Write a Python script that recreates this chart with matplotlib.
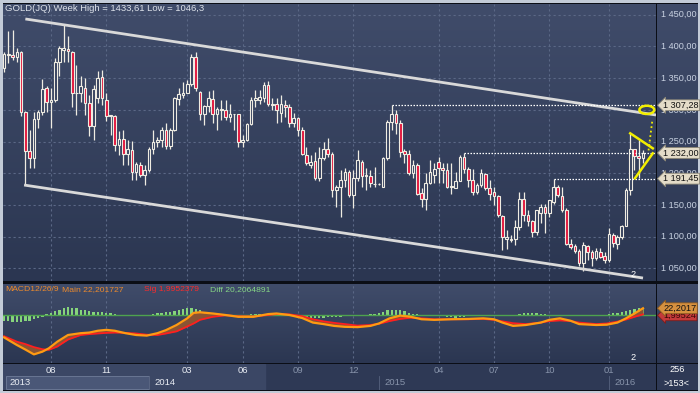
import numpy as np
import matplotlib
matplotlib.use('Agg')
import matplotlib.pyplot as plt
from matplotlib.patches import Rectangle, Ellipse
from matplotlib.colors import LinearSegmentedColormap

plt.rcParams['font.family'] = ['Liberation Sans', 'DejaVu Sans']

# ---------------- data (weekly OHLC, bar index order) ----------------
opens = [1366, 1386, 1387, 1383, 1391, 1296, 1235, 1224, 1286, 1296,
         1335, 1312, 1316, 1376, 1395, 1396, 1391, 1326, 1326, 1335,
         1311, 1274, 1318, 1352, 1315, 1290, 1290, 1245, 1254, 1230,
         1237, 1202, 1213, 1197, 1205, 1239, 1250, 1253, 1269, 1243,
         1268, 1317, 1324, 1326, 1341, 1383, 1328, 1294, 1306, 1317,
         1294, 1299, 1300, 1289, 1293, 1293, 1250, 1253, 1278, 1315,
         1315, 1318, 1339, 1310, 1309, 1295, 1307, 1304, 1280, 1287,
         1269, 1229, 1213, 1220, 1192, 1224, 1238, 1231, 1174, 1178,
         1189, 1202, 1166, 1192, 1218, 1195, 1196, 1183, 1183, 1179,
         1224, 1281, 1294, 1279, 1235, 1230, 1201, 1213, 1169, 1159,
         1184, 1198, 1217, 1208, 1205, 1179, 1177, 1188, 1226, 1206,
         1190, 1171, 1181, 1199, 1176, 1171, 1164, 1133, 1096, 1094,
         1096, 1115, 1160, 1134, 1124, 1108, 1138, 1146, 1138, 1155,
         1179, 1164, 1142, 1089, 1085, 1078, 1058, 1085, 1075, 1066,
         1076, 1069, 1063, 1102, 1089, 1099, 1117, 1174, 1238, 1227,
         1224]
highs = [1391, 1424, 1426, 1397, 1393, 1298, 1268, 1297, 1300, 1349,
         1338, 1334, 1382, 1400, 1433.61, 1416, 1393, 1371, 1353, 1350,
         1324, 1340, 1361, 1363, 1326, 1292, 1292, 1267, 1269, 1253,
         1251, 1218, 1217, 1213, 1242, 1268, 1257, 1273, 1279, 1272,
         1321, 1334, 1344, 1347, 1388, 1392, 1329, 1308, 1329, 1331,
         1305, 1316, 1316, 1310, 1294, 1294, 1260, 1279, 1321, 1331,
         1331, 1344, 1345, 1318, 1318, 1323, 1315, 1310, 1295, 1289,
         1273, 1242, 1229, 1234, 1242, 1250, 1255, 1234, 1182, 1205,
         1208, 1205, 1205, 1237, 1221, 1208, 1205, 1210, 1184, 1226,
         1284, 1307.28, 1300, 1284, 1239, 1237, 1221, 1216, 1176, 1200,
         1221, 1216, 1226, 1216, 1216, 1216, 1202, 1229, 1232, 1210,
         1206, 1184, 1206, 1201, 1189, 1179, 1166, 1134, 1110, 1102,
         1126, 1170, 1171, 1142, 1126, 1142, 1152, 1152, 1158, 1191.45,
         1181, 1179, 1145, 1097, 1089, 1080, 1092, 1087, 1079, 1082,
         1082, 1076, 1113, 1105, 1102, 1118, 1176, 1263, 1239, 1253,
         1236]
lows = [1359, 1374, 1379, 1376, 1290, 1181, 1208, 1208, 1271, 1292,
        1296, 1272, 1313, 1353, 1376, 1376, 1305, 1292, 1313, 1292,
        1258, 1253, 1311, 1308, 1282, 1261, 1235, 1229, 1213, 1213,
        1190, 1189, 1194, 1181, 1202, 1231, 1242, 1242, 1239, 1239,
        1267, 1308, 1318, 1326, 1338, 1330, 1284, 1276, 1297, 1279,
        1268, 1284, 1284, 1281, 1268, 1242, 1241, 1251, 1276, 1305,
        1310, 1313, 1306, 1300, 1279, 1281, 1289, 1273, 1273, 1258,
        1229, 1213, 1208, 1189, 1187, 1221, 1226, 1163, 1147, 1131,
        1179, 1163, 1145, 1187, 1179, 1173, 1179, 1179, 1182, 1179,
        1221, 1268, 1262, 1226, 1216, 1197, 1192, 1166, 1147, 1142,
        1183, 1184, 1184, 1184, 1176, 1168, 1176, 1187, 1200, 1179,
        1166, 1168, 1179, 1174, 1158, 1150, 1131, 1079, 1081, 1092,
        1087, 1110, 1125, 1116, 1100, 1103, 1121, 1105, 1131, 1152,
        1163, 1139, 1087, 1081, 1074, 1053, 1046.3, 1063, 1053, 1063,
        1066, 1058, 1060, 1084, 1081, 1097, 1116, 1166, 1205, 1192,
        1216]
closes = [1388, 1388, 1383, 1391, 1296, 1235, 1224, 1286, 1296, 1333,
          1312, 1316, 1376, 1397, 1397, 1393, 1326, 1327, 1337, 1311,
          1274, 1333, 1350, 1318, 1290, 1292, 1245, 1254, 1230, 1239,
          1202, 1214, 1197, 1205, 1239, 1250, 1253, 1269, 1243, 1268,
          1318, 1325, 1327, 1341, 1384, 1334, 1294, 1306, 1318, 1294,
          1302, 1302, 1288, 1293, 1293.5, 1250, 1253, 1278, 1316, 1318,
          1320, 1339, 1310, 1307, 1300, 1309, 1304, 1280, 1287, 1269,
          1230, 1216, 1218, 1192, 1224, 1238, 1231, 1174, 1178, 1189,
          1202, 1166, 1192, 1221, 1195, 1197, 1184, 1183.5, 1183.5, 1224,
          1281, 1294, 1279, 1234, 1230, 1201, 1213, 1167, 1159, 1184,
          1202, 1206, 1208, 1205, 1179, 1179.5, 1188, 1226, 1206, 1190,
          1171, 1181, 1200, 1176, 1168, 1164, 1134, 1099, 1099, 1097,
          1115, 1160, 1134, 1124, 1108, 1142, 1146, 1138, 1158, 1179,
          1166, 1142, 1088, 1084, 1078, 1058, 1087, 1075, 1067, 1078,
          1068, 1063, 1104, 1090, 1099, 1117, 1174, 1238, 1227, 1224,
          1232]

# MACD(12,26,9)
macd_bar = [0, 3, 5, 7, 9, 10.5, 12.5, 15, 18, 20, 22, 24, 26, 28.5, 31, 33.5,
            36, 38, 40.5, 43, 44.5, 46, 49, 52, 55, 58.5, 62, 64, 67, 70, 72.5,
            75, 77.5, 80, 83, 86, 88, 90.5, 93, 95.5, 98, 101, 105, 109, 112.5,
            115, 117, 119.5, 122.5, 126, 128, 130.5, 133, 135, 139, 141.5, 144,
            146, 148, 150]
macd_main = [-74, -99, -114, -130, -121, -110, -88, -66, -60, -58, -52, -49,
             -52, -60, -66, -68, -60, -50, -33, -11, 7, 9, 5, 0, -6, -6, 3, 5,
             0, -10, -25, -30, -36, -39, -40, -36, -28, -11, -2, -6, -14, -16,
             -14, -13, -11, -14, -25, -36, -33, -25, -16, -11, -19, -30, -33,
             -32, -25, -11, 5, 22.201727]
macd_sig = [-70, -88, -96, -106, -113, -115, -104, -81, -66, -63, -61, -59,
            -58, -59, -61, -65, -66, -61, -54, -38, -28, -16, -6, -1, -4, -5,
            0, 3, 2, -4, -14, -21, -26, -30, -35, -33, -29, -20, -13, -9, -11,
            -14, -14, -14, -13, -16, -21, -27, -30, -25, -20, -18, -20, -25,
            -30, -28, -22, -15, -6, 1.9952379]
macd_hist = [-19, -20, -22, -22, -22, -21, -20, -14, -9, -5,
             2, 6, 12, 18, 24, 25, 24, 22, 17, 16,
             12, 10, 11, 9, 7, 5, 2, -1, -3, -2,
             -3, -4, -3, -2, 1, 3, 5, 8, 10, 11,
             14, 17, 20, 23, 24, 21, 15, 10, 7, 4,
             1, 0, -1, -2, -3, -2, -1, 1, 2, 3,
             3, 2, 1, 0, -1, -2, -3, -4, -8, -10,
             -11, -12, -11, -10, -9, -9, -8, -7, -6, -5,
             -4, -3, -2, -1, 0, 1, 2, 3, 6, 11,
             15, 17, 17, 15, 12, 8, 4, 2, 1, 0,
             -1, -1, 0, -3, -5, -8, -9, -8, -6, -4,
             -3, -2, -2, -1, -1, -2, -3, -4, -3, -2,
             0, 2, 5, 7, 7, 6, 4, 2, 0, -2,
             -3, -4, -4, -3, -3, -2, -2, -2, -1, -1,
             0, 1, 3, 5, 7, 10, 13, 16, 20, 22,
             20]

month_labels = ['08', '11', '03', '06', '09', '12', '04', '07', '10', '01']
month_bar = [11, 24, 43, 56, 69, 82, 102, 115, 128, 142]
year_labels = ['2013', '2014', '2015', '2016']
year_bar = [0, 34, 88, 142]
price_ticks = [1050, 1100, 1150, 1200, 1250, 1300, 1350, 1400, 1450]

# drawn objects on the chart (bar index, price)
channel_upper = [(5.0, 1443.4), (153.05, 1291.9)]
channel_lower = [(4.7, 1181.4), (150.0, 1034.7)]
levels = [1307.28, 1232.00, 1191.45]
level_start = [91, 108, 129]
pennant_top = [(147.0, 1263), (152.3, 1239.3)]
pennant_bot = [(148.1, 1192), (152.3, 1231.4)]
target_path = [(151.3, 1236), (152.2, 1284)]
target_mark = (150.9, 1300)

title = 'GOLD(JQ) Week High = 1433,61 Low = 1046,3'
bars_total = 256
bars_visible = 153

# ---------------- figure ----------------
W, H = 700, 393
fig = plt.figure(figsize=(7, 3.93), dpi=100)
fig.patch.set_facecolor('#c3cbd7')


def rect(x0, y0, x1, y1):
    return [x0 / W, 1 - y1 / H, (x1 - x0) / W, (y1 - y0) / H]


def ftext(x, y, s, **kw):
    return fig.text(x / W, 1 - y / H, s, **kw)


bg = fig.add_axes([0, 0, 1, 1])
bg.set_xlim(0, W)
bg.set_ylim(H, 0)
bg.axis('off')
bg.add_patch(Rectangle((3, 3), 695, 388, facecolor='#0b0e16', edgecolor='none'))

XL = (-0.25, 153.05)
grad = np.linspace(0, 1, 256).reshape(-1, 1)
gcmap = LinearSegmentedColormap.from_list('g', ['#404c6a', '#2b3651'])
TXT = '#c9d2e2'
GRID = '#5b6886'
FS = 6.6


def gradient(ax):
    ax.imshow(grad, cmap=gcmap, aspect='auto', extent=[0, 1, 0, 1],
              transform=ax.transAxes, zorder=0, origin='upper')


def clean(ax):
    for s in ax.spines.values():
        s.set_visible(False)
    ax.tick_params(length=0, labelleft=False, labelbottom=False)


# ---- main price panel
ax = fig.add_axes(rect(3, 4, 656, 281))
gradient(ax)
ax.set_xlim(*XL)
ax.set_ylim(1030, 1467)
clean(ax)
ax.set_yticks(price_ticks)
ax.set_xticks(month_bar)
ax.grid(True, color=GRID, linestyle=(0, (2, 2.5)), lw=0.8)
ax.set_axisbelow(True)

o = np.array(opens, float)
h = np.array(highs, float)
l = np.array(lows, float)
c = np.array(closes, float)
idx = np.arange(len(o))
CW = '#efece2'
ax.vlines(idx, l, h, color=CW, lw=0.9, zorder=3)
up = c >= o
face = np.where(up, '#34405d', '#e3163c')
bottom = np.minimum(o, c)
height = np.maximum(np.abs(c - o), 0.8)
ax.bar(idx, height, bottom=bottom, width=0.62, color=face, edgecolor=CW,
       linewidth=0.8, zorder=4)

for line in (channel_upper, channel_lower):
    xs, ys = zip(*line)
    ax.plot(xs, ys, color='#d9d9d9', lw=2.0, zorder=5, solid_capstyle='butt')

for lv, st in zip(levels, level_start):
    ax.hlines(lv, st, XL[1], color='white', lw=0.9, linestyle=(0, (1.2, 1.2)), zorder=5)

YEL = '#f2ee00'
for line in (pennant_top, pennant_bot):
    xs, ys = zip(*line)
    ax.plot(xs, ys, color=YEL, lw=1.8, zorder=6)
xs, ys = zip(*target_path)
ax.plot(xs, ys, color=YEL, lw=1.3, linestyle=(0, (1, 1.5)), zorder=6)
ax.add_patch(Ellipse(target_mark, 3.5, 13.0, facecolor='none', edgecolor=YEL, lw=1.8, zorder=6))
ax.text(147.6, 1041, '2', color='white', fontsize=FS, ha='center', va='center', zorder=7)

ftext(5, 8.5, title, color='#dde2ea', fontsize=6.8, va='center', ha='left')

# ---- right price scale
axr = fig.add_axes(rect(657, 4, 698, 281))
gradient(axr)
axr.set_xlim(0, 1)
axr.set_ylim(1030, 1467)
clean(axr)
for p in price_ticks:
    s = f"{p // 1000} {p % 1000:03d},00"
    axr.text(0.09, p, s, color=TXT, fontsize=FS, va='center', ha='left', zorder=2)
for lv in levels:
    s = f"{int(lv) // 1000} {int(lv) % 1000:03d},{int(round((lv - int(lv)) * 100)):02d}"
    axr.text(0.15, lv, s, color='#111111', fontsize=FS, va='center', ha='left', zorder=5,
             bbox=dict(boxstyle='larrow,pad=0.1', fc='#e4dcc8', ec='#8d8877', lw=0.6))

# ---- MACD panel
am = fig.add_axes(rect(3, 284, 656, 363))
gradient(am)
am.set_xlim(*XL)
am.set_ylim(-158.4, 102.3)
clean(am)
am.set_xticks(month_bar)
am.set_yticks([])
am.grid(True, axis='x', color=GRID, linestyle=(0, (2, 2.5)), lw=0.8)
am.set_axisbelow(True)
am.bar(np.arange(len(macd_hist)), macd_hist, width=0.55, color='#86d47c', zorder=2)
am.axhline(0, color='#4ea34e', lw=1.0, zorder=3)
am.fill_between(macd_bar, macd_main, macd_sig, color='#8a5433', lw=0, zorder=3)
am.plot(macd_bar, macd_sig, color='#ff1f1f', lw=1.3, zorder=4)
am.plot(macd_bar, macd_main, color='#ff9a12', lw=1.6, zorder=5)
am.text(147.6, -138.6, '2', color='white', fontsize=FS, ha='center', va='center')

MFS = 6.1
ftext(5, 289.5, 'MACD12/26/9', color='#ee8a2c', fontsize=MFS, va='center')
ftext(62, 289.5, f'Main {macd_main[-1]:.6f}'.replace('.', ','), color='#ee8a2c', fontsize=MFS, va='center')
ftext(144, 289.5, f'Sig {macd_sig[-1]:.7f}'.replace('.', ','), color='#ff2a2a', fontsize=MFS, va='center')
ftext(210, 289.5, f'Diff {macd_main[-1] - macd_sig[-1]:.7f}'.replace('.', ','), color='#86d686',
      fontsize=MFS, va='center')

amr = fig.add_axes(rect(657, 284, 698, 363))
gradient(amr)
amr.set_xlim(0, 1)
amr.set_ylim(-158.4, 102.3)
clean(amr)
amr.text(0.15, macd_main[-1], f'{macd_main[-1]:.4f}'.replace('.', ','), color='#111111',
         fontsize=FS, va='center', ha='left', zorder=5, clip_on=True,
         bbox=dict(boxstyle='larrow,pad=0.1', fc='#d6913f', ec='#8a5a20', lw=0.6))
amr.text(0.15, macd_sig[-1] - 3, f'{macd_sig[-1]:.5f}'.replace('.', ','), color='#3a0808',
         fontsize=FS, va='center', ha='left', zorder=4, clip_on=True,
         bbox=dict(boxstyle='larrow,pad=0.1', fc='#c43a3a', ec='#7a1c1c', lw=0.6))
for bx, g in zip([660, 672, 685], ['_', '□', '✕']):
    bg.add_patch(Rectangle((bx, 287), 11, 9.5, fc='#dfe3ea', ec='#8a93a6', lw=0.5, zorder=10))
    bg.text(bx + 5.5, 291.5, g, color='#222222', fontsize=6, ha='center', va='center',
            family='DejaVu Sans', zorder=11)

# ---- time axis strip
ax_x = fig.add_axes(rect(3, 364, 656, 390))
ax_x.set_facecolor('#2e3955')
ax_x.set_xlim(*XL)
ax_x.set_ylim(0, 1)
clean(ax_x)
hi_end = 61.3
ax_x.axvspan(XL[0], hi_end, color='#3b4765', zorder=0)
ax_x.add_patch(Rectangle((0.5, 0.04), year_bar[1] - 0.5, 0.48, fc='#4a5777', ec='#6f7c98',
                         lw=0.6, zorder=1))
for m, b in zip(month_labels, month_bar):
    col = '#e8ecf3' if b < hi_end else '#8793aa'
    ax_x.text(b, 0.76, m, color=col, fontsize=6.8, ha='center', va='center')
for y, b in zip(year_labels, year_bar):
    col = '#e8ecf3' if b < hi_end else '#8793aa'
    ax_x.annotate(y, (b, 0.27), xytext=(4, 0), textcoords='offset points', color=col,
                  fontsize=6.8, ha='left', va='center')
    if b > 0:
        ax_x.plot([b, b], [0.0, 0.52], color='#56627e', lw=0.6)

axb = fig.add_axes(rect(657, 364, 698, 390))
axb.set_facecolor('#2e3955')
clean(axb)
ftext(677, 370, str(bars_total), color='white', fontsize=FS, ha='center', va='center')
ftext(677, 383, f'>{bars_visible}<', color='white', fontsize=FS, ha='center', va='center')

fig.savefig('out.png', dpi=100, facecolor=fig.get_facecolor())
